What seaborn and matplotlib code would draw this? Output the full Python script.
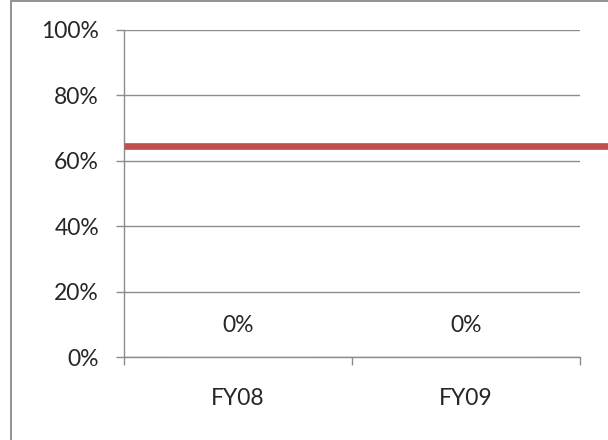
import matplotlib
matplotlib.use("Agg")
import matplotlib.pyplot as plt
import seaborn as sns
import pandas as pd
from matplotlib.patches import Rectangle
from matplotlib.ticker import PercentFormatter, FixedLocator

categories = ["FY08", "FY09"]
values = [0.0, 0.0]
value_labels = ["0%", "0%"]
target = 0.645
y_ticks = [0, 0.2, 0.4, 0.6, 0.8, 1.0]

sns.set_theme(style="white")
plt.rcParams["font.family"] = ["Lato", "DejaVu Sans"]

FS = 16.5
TXT = "#262626"

fig = plt.figure(figsize=(6.08, 4.40), dpi=100)
ax = fig.add_axes([124/608, 1 - 357/440, (580-124)/608, (357-30)/440])

df = pd.DataFrame({"cat": categories, "val": values})
sns.barplot(data=df, x="cat", y="val", ax=ax, color="#4F81BD", width=0.6)

ax.set_xlim(-0.5, 1.5)
ax.set_ylim(0, 1.0)
ax.set_yticks(y_ticks)
ax.yaxis.set_major_formatter(PercentFormatter(1.0, decimals=0))
ax.set_xlabel("")
ax.set_ylabel("")

grid_c = "#8c8c8c"
ax.yaxis.grid(True, color=grid_c, linewidth=1.0)
ax.set_axisbelow(True)
for s in ["top", "right"]:
    ax.spines[s].set_visible(False)
for s in ["left", "bottom"]:
    ax.spines[s].set_color(grid_c)
    ax.spines[s].set_linewidth(1.0)

ax.tick_params(axis="y", which="major", length=6, width=1, color=grid_c, pad=12,
               labelsize=FS, labelcolor=TXT, left=True)
ax.tick_params(axis="x", which="major", length=0, pad=22, labelsize=FS, labelcolor=TXT)
ax.xaxis.set_minor_locator(FixedLocator([-0.5, 0.5, 1.5]))
ax.tick_params(axis="x", which="minor", length=6, width=1, color=grid_c, bottom=True)

for i, (v, lab) in enumerate(zip(values, value_labels)):
    ax.annotate(lab, (i, v), xytext=(0, 23), textcoords="offset points",
                ha="center", va="center", fontsize=FS, color=TXT)

ax.axhline(target, xmin=0, xmax=1.1, color="#C0504D", linewidth=4.8,
           clip_on=False, zorder=5, solid_capstyle="butt")

fig.patches.append(Rectangle((10.5/608, -0.1), 1.2, 1.1 - 1.5/440,
                             transform=fig.transFigure, fill=False,
                             edgecolor="#8a8a8a", linewidth=1.3, clip_on=False))

fig.savefig("out.png", dpi=100)
